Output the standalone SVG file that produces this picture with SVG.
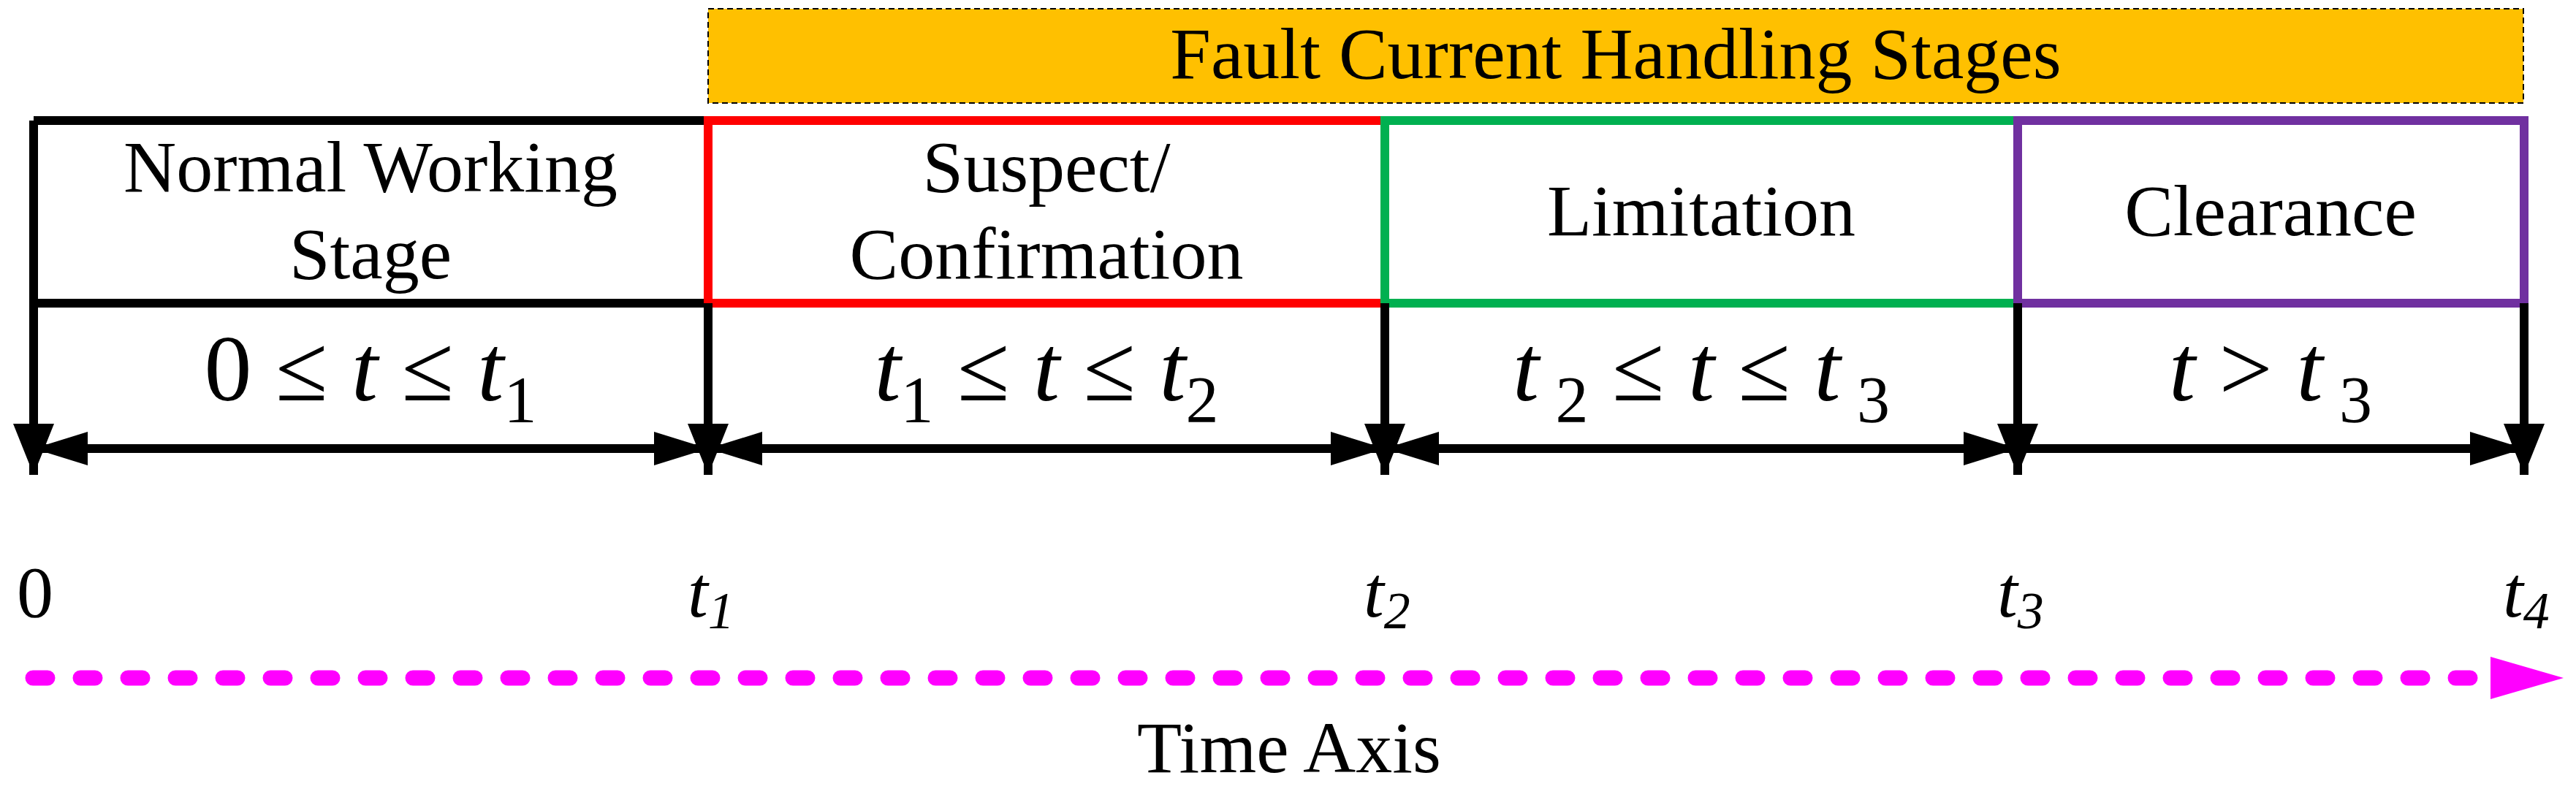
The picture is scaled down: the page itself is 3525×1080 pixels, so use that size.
<svg xmlns="http://www.w3.org/2000/svg" width="3525" height="1080" viewBox="0 0 3525 1080">
<style>
text{font-family:"Liberation Serif","Times New Roman",serif;fill:#000}
.lbl{font-size:100px;text-anchor:middle}
.m{font-size:130px;text-anchor:middle}
.i{font-style:italic}
.s{font-size:90px}
.tl{font-size:100px;font-style:italic}
.ts{font-size:72px;font-style:italic}
.blk{stroke:#000;stroke-width:12;fill:none}
</style>
<defs>
<marker id="ah" markerUnits="userSpaceOnUse" markerWidth="74" markerHeight="46" refX="74" refY="23" orient="auto-start-reverse" viewBox="0 0 74 46"><path d="M0,0 L74,23 L0,46 Z" fill="#000"/></marker>
<marker id="dn" markerUnits="userSpaceOnUse" markerWidth="70" markerHeight="56" refX="70" refY="28" orient="auto" viewBox="0 0 70 56"><path d="M0,0 L70,28 L0,56 Z" fill="#000"/></marker>
</defs>
<g id="title">
<rect x="969" y="12" width="2484" height="129" fill="#FFC000" stroke="#000" stroke-width="2" stroke-dasharray="8 5"/>
<text class="lbl" x="2211" y="107">Fault Current Handling Stages</text>
</g>
<g id="normal">
<path class="blk" d="M46,165 H969 M46,415 H969 M46,165 V415"/>
<text class="lbl" x="507" y="262">Normal Working</text>
<text class="lbl" x="507" y="381">Stage</text>
<text class="m" x="507" y="548">0 ≤ <tspan class="i">t</tspan> ≤ <tspan class="i">t</tspan><tspan class="s" dy="30">1</tspan></text>
</g>
<g id="suspect">
<rect x="969" y="165" width="926" height="250" fill="none" stroke="#FF0000" stroke-width="12"/>
<text class="lbl" x="1432" y="262">Suspect/</text>
<text class="lbl" x="1432" y="381">Confirmation</text>
<text class="m" x="1432" y="548"><tspan class="i">t</tspan><tspan class="s" dy="30">1</tspan><tspan dy="-30"> ≤ </tspan><tspan class="i">t</tspan> ≤ <tspan class="i">t</tspan><tspan class="s" dy="30">2</tspan></text>
</g>
<g id="limitation">
<rect x="1895" y="165" width="866" height="250" fill="none" stroke="#00B050" stroke-width="12"/>
<text class="lbl" x="2328" y="322">Limitation</text>
<text class="m" x="2328" y="548"><tspan class="i">t</tspan><tspan class="s" dy="30"> 2</tspan><tspan dy="-30"> ≤ </tspan><tspan class="i">t</tspan> ≤ <tspan class="i">t</tspan><tspan class="s" dy="30"> 3</tspan></text>
</g>
<g id="clearance">
<rect x="2761" y="165" width="693" height="250" fill="none" stroke="#7030A0" stroke-width="12"/>
<text class="lbl" x="3107" y="322">Clearance</text>
<text class="m" x="3107" y="548"><tspan class="i">t</tspan>  &gt;  <tspan class="i">t</tspan><tspan class="s" dy="30"> 3</tspan></text>
</g>
<g id="connectors">
<path class="blk" d="M46,165 V650" marker-end="url(#dn)"/>
<path class="blk" d="M969,415 V650" marker-end="url(#dn)"/>
<path class="blk" d="M1895,415 V650" marker-end="url(#dn)"/>
<path class="blk" d="M2761,415 V650" marker-end="url(#dn)"/>
<path class="blk" d="M3454,415 V650" marker-end="url(#dn)"/>
<path class="blk" d="M46,614 H969" marker-start="url(#ah)" marker-end="url(#ah)"/>
<path class="blk" d="M969,614 H1895" marker-start="url(#ah)" marker-end="url(#ah)"/>
<path class="blk" d="M1895,614 H2761" marker-start="url(#ah)" marker-end="url(#ah)"/>
<path class="blk" d="M2761,614 H3454" marker-end="url(#ah)"/>
<path d="M45,928 H3397" stroke="#FF00FF" stroke-width="21" stroke-linecap="round" stroke-dasharray="20 45" fill="none"/>
<path d="M3408,899 L3508,928 L3408,957 Z" fill="#FF00FF"/>
</g>
<g id="ticks">
<text class="tl" x="48" y="844" text-anchor="middle" style="font-style:normal">0</text>
<text class="tl" x="941" y="844">t<tspan class="ts" dy="16">1</tspan></text>
<text class="tl" x="1866" y="844">t<tspan class="ts" dy="16">2</tspan></text>
<text class="tl" x="2733" y="844">t<tspan class="ts" dy="16">3</tspan></text>
<text class="tl" x="3425" y="844">t<tspan class="ts" dy="16">4</tspan></text>
<text class="lbl" x="1764" y="1057">Time Axis</text>
</g>
</svg>
